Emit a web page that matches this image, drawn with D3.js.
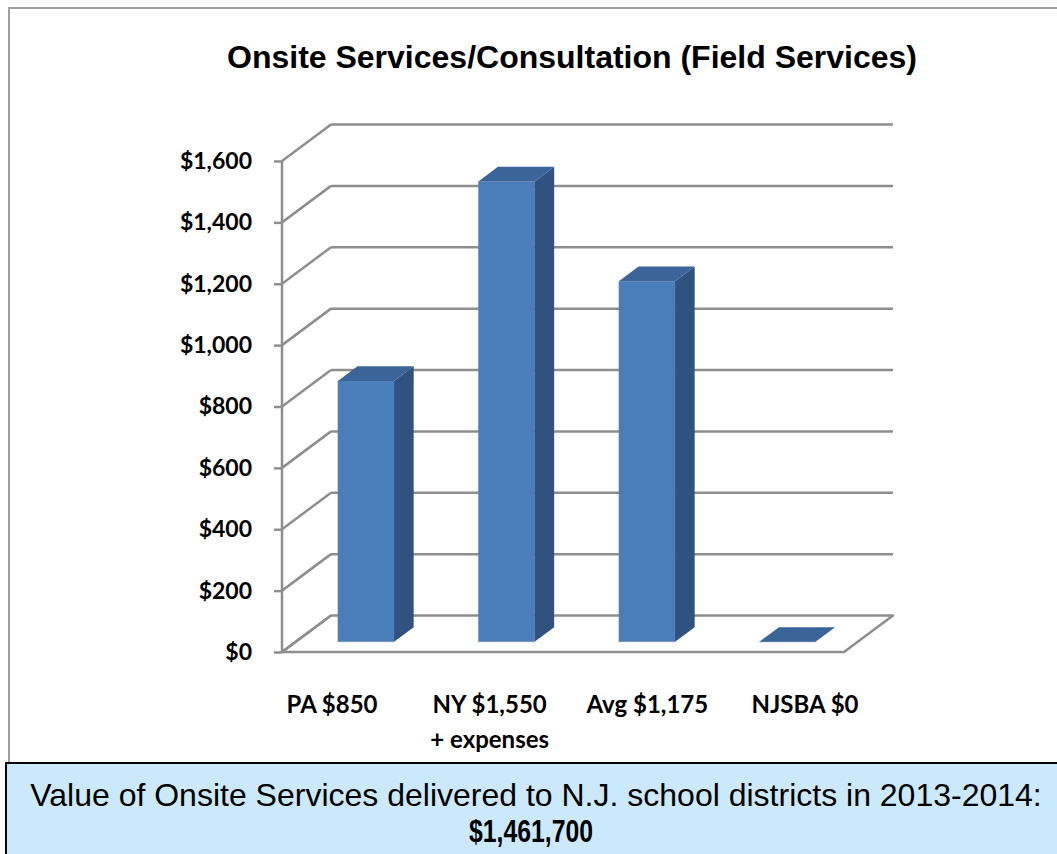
<!DOCTYPE html>
<html>
<head>
<meta charset="utf-8">
<script src="https://cdn.jsdelivr.net/npm/d3@7"></script>
<style>
  body { margin: 0; background: #fff; }
  svg { display: block; }
</style>
</head>
<body>
<div id="chart"></div>
<script>
// data
const categories = ['PA', 'NY', 'Avg', 'NJSBA'];
const labelLines = [['PA $850'], ['NY $1,550', '+ expenses'], ['Avg $1,175'], ['NJSBA $0']];
const values = [850, 1500, 1175, 0];
const yTicks = [0, 200, 400, 600, 800, 1000, 1200, 1400, 1600];
const titleText = 'Onsite Services/Consultation (Field Services)';
const footerLines = ['Value of Onsite Services delivered to N.J. school districts in 2013-2014:', '$1,461,700'];

const W = 1057, H = 854;
const svg = d3.select('#chart').append('svg')
    .attr('width', W)
    .attr('height', H);

// chart frame + footer box
svg.append('rect')
    .attr('x', 9).attr('y', 8)
    .attr('width', 1100).attr('height', 755)
    .attr('fill', '#fff')
    .attr('stroke', '#a0a0a0')
    .attr('stroke-width', 2);
svg.append('rect')
    .attr('x', 6).attr('y', 763)
    .attr('width', 1100).attr('height', 120)
    .attr('fill', '#cce9fb')
    .attr('stroke', '#000')
    .attr('stroke-width', 2);

svg.append('text')
    .attr('x', 572).attr('y', 57)
    .attr('text-anchor', 'middle')
    .attr('dominant-baseline', 'central')
    .attr('font-family', 'Liberation Sans, Arial, sans-serif')
    .attr('font-weight', 'bold')
    .attr('font-size', 32)
    .text(titleText);

svg.selectAll('.footer')
    .data(footerLines)
    .enter().append('text')
    .attr('class', 'footer')
    .attr('x', (d, i) => i == 0 ? 536 : 531)
    .attr('y', (d, i) => 795 + i * 36)
    .attr('text-anchor', 'middle')
    .attr('dominant-baseline', 'central')
    .attr('font-family', 'Liberation Sans, Arial, sans-serif')
    .attr('font-weight', (d, i) => i == 0 ? 'normal' : 'bold')
    .attr('font-size', 32)
    .each(function(d, i) {
        if (i == 1) d3.select(this).attr('textLength', 124).attr('lengthAdjust', 'spacingAndGlyphs');
    })
    .text(d => d);

// scales (front plane)
const yScale = d3.scaleLinear().domain([0, 1600]).range([652, 161]);
const xScale = d3.scaleBand().domain(categories).range([282, 844])
    .paddingInner(0.6).paddingOuter(0.3);
const labelScale = d3.scalePoint().domain(categories).range([332, 805]);

// depth vector for the oblique 3D look
const DX = 49, DY = -36.5;
const z0 = 0.28, z1 = 0.68;
const proj = (x, v, z) => [x + z * DX, yScale(v) + z * DY];

const gridColor = '#8e8e8e';
const grid = svg.append('g').attr('class', 'walls');

// floor
const x0 = xScale.range()[0], x1 = xScale.range()[1];
grid.append('polygon')
    .attr('points', [proj(x0, 0, 0), proj(x1, 0, 0), proj(x1, 0, 1), proj(x0, 0, 1)].map(p => p.join(',')).join(' '))
    .attr('fill', '#fff')
    .attr('stroke', gridColor)
    .attr('stroke-width', 2.5)
    .attr('stroke-linejoin', 'round');

// back wall gridlines
grid.selectAll('.gridline')
    .data(yTicks.filter(d => d > 0))
    .enter().append('line')
    .attr('class', 'gridline')
    .attr('x1', d => proj(x0, d, 1)[0]).attr('y1', d => proj(x0, d, 1)[1])
    .attr('x2', d => proj(x1, d, 1)[0]).attr('y2', d => proj(x1, d, 1)[1])
    .attr('stroke', gridColor).attr('stroke-width', 2.5);

// side wall diagonals
grid.selectAll('.diag')
    .data(yTicks)
    .enter().append('line')
    .attr('class', 'diag')
    .attr('x1', x0).attr('y1', d => yScale(d))
    .attr('x2', d => proj(x0, d, 1)[0]).attr('y2', d => proj(x0, d, 1)[1])
    .attr('stroke', gridColor).attr('stroke-width', 2.5);

// y axis
const yAxis = d3.axisLeft(yScale)
    .tickValues(yTicks)
    .tickSize(8)
    .tickPadding(22)
    .tickFormat(d => '$' + d3.format(',')(d));
const yAxisG = svg.append('g')
    .attr('class', 'axis y-axis')
    .attr('transform', `translate(${x0}, 0)`)
    .call(yAxis);
yAxisG.select('.domain')
    .attr('stroke', gridColor).attr('stroke-width', 2.5)
    .attr('d', `M0,${yScale(0)}V${yScale(1600)}`);
yAxisG.selectAll('.tick line').attr('stroke', gridColor).attr('stroke-width', 2.5);
yAxisG.selectAll('.tick text')
    .attr('fill', '#000')
    .attr('font-family', 'Lato, Carlito, sans-serif')
    .attr('font-weight', 'bold')
    .attr('font-size', 23);

// bars
const bars = svg.append('g').attr('class', 'bars')
    .selectAll('.bar')
    .data(categories.map((c, i) => ({ cat: c, value: values[i] })))
    .enter().append('g')
    .attr('class', 'bar');

const poly = pts => pts.map(p => p.join(',')).join(' ');

bars.append('polygon')
    .attr('class', 'front')
    .attr('points', d => {
        const a = xScale(d.cat), b = a + xScale.bandwidth();
        return poly([proj(a, 0, z0), proj(b, 0, z0), proj(b, d.value, z0), proj(a, d.value, z0)]);
    })
    .attr('fill', '#4a7ebb')
    .attr('stroke', 'rgba(120,130,150,0.35)')
    .attr('stroke-width', 1);

bars.append('polygon')
    .attr('class', 'side')
    .attr('points', d => {
        const b = xScale(d.cat) + xScale.bandwidth();
        return poly([proj(b, 0, z0), proj(b, d.value, z0), proj(b, d.value, z1), proj(b, 0, z1)]);
    })
    .attr('fill', '#30527f');

bars.append('polygon')
    .attr('class', 'top')
    .attr('points', d => {
        const a = xScale(d.cat), b = a + xScale.bandwidth();
        return poly([proj(a, d.value, z0), proj(b, d.value, z0), proj(b, d.value, z1), proj(a, d.value, z1)]);
    })
    .attr('fill', '#3b6598');

// category labels
const labels = svg.append('g').attr('class', 'x-labels')
    .selectAll('text')
    .data(categories.map((c, i) => ({ cat: c, lines: labelLines[i] })))
    .enter().append('text')
    .attr('text-anchor', 'middle')
    .attr('font-family', 'Lato, Carlito, sans-serif')
    .attr('font-weight', 'bold')
    .attr('font-size', 24)
    .attr('fill', '#000');
labels.selectAll('tspan')
    .data(d => d.lines.map(l => ({ cat: d.cat, text: l })))
    .enter().append('tspan')
    .attr('x', d => labelScale(d.cat))
    .attr('y', (d, i) => 713 + i * 35)
    .text(d => d.text);
</script>
</body>
</html>
